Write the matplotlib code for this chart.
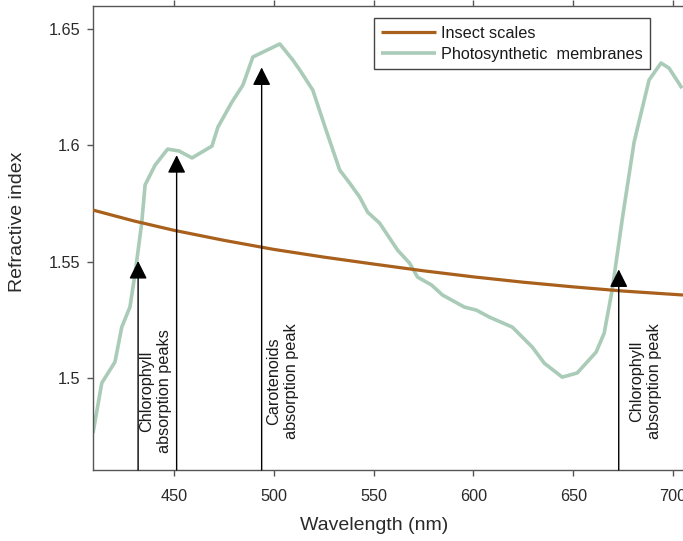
import matplotlib
matplotlib.use("Agg")
import matplotlib.pyplot as plt

plt.rcParams['font.family'] = ['Liberation Sans', 'DejaVu Sans']

# Insect scales refractive index
insect_wl = [409.4, 430, 450, 475, 500, 525, 550, 575, 600, 625, 650, 675, 705]
insect_n = [1.5722, 1.5675, 1.5635, 1.5592, 1.5553, 1.5520, 1.5490, 1.5461, 1.5435, 1.5412, 1.5392, 1.5374, 1.5357]

# Photosynthetic membranes refractive index
photo_wl = [409.4, 413.8, 420.4, 423.8, 427.9, 430.5, 433.8, 435.5, 440.5, 446.8, 452.5,
            459.0, 469.0, 472.0, 479.0, 484.5, 489.5, 503.0, 509.5, 513.0, 519.5, 526.0,
            533.0, 538.0, 543.0, 547.0, 553.0, 562.0, 568.0, 572.0, 579.0, 584.5, 595.5,
            601.5, 608.0, 619.5, 629.5, 635.5, 644.5, 652.0, 661.5, 665.5, 669.5, 674.5,
            680.5, 688.0, 694.0, 698.0, 704.5]
photo_n = [1.4764, 1.4979, 1.5069, 1.5219, 1.5305, 1.5451, 1.5666, 1.5830, 1.5915, 1.5984, 1.5976,
           1.5946, 1.5997, 1.6079, 1.6186, 1.6259, 1.6380, 1.6436, 1.6367, 1.6324, 1.6238, 1.6070,
           1.5894, 1.5838, 1.5778, 1.5713, 1.5666, 1.5550, 1.5494, 1.5434, 1.5400, 1.5357, 1.5305,
           1.5292, 1.5262, 1.5219, 1.5133, 1.5064, 1.5004, 1.5022, 1.5112, 1.5193, 1.5378, 1.5679,
           1.6014, 1.6281, 1.6354, 1.6332, 1.6246]

# Annotation arrows: x position and tip height
arrow_x = [432.0, 451.3, 493.9, 672.8]
arrow_tip = [1.5503, 1.5958, 1.6335, 1.5467]

# Annotation labels
label_text = ["Chlorophyll\nabsorption peaks", "Carotenoids\nabsorption peak", "Chlorophyll\nabsorption peak"]
label_x = [440.9, 504.4, 686.3]
label_y = [1.4944, 1.4987, 1.4987]

x_ticks = [450, 500, 550, 600, 650, 700]
y_ticks = [1.5, 1.55, 1.6, 1.65]
y_ticklabels = ["1.5", "1.55", "1.6", "1.65"]

fig = plt.figure(figsize=(6.83, 5.41), dpi=100)
ax = fig.add_axes([93/683, 1 - 470/541, 1 - 93/683, (470 - 6)/541])

xmin, xmax = 409.4, 705.0
ymin, ymax = 1.4605, 1.6599

ax.plot(insect_wl, insect_n, color='#A8601C', lw=2.3, label='Insect scales', zorder=3, solid_capstyle='butt')
ax.plot(photo_wl, photo_n, color='#A9CBB7', lw=2.6, label='Photosynthetic  membranes', zorder=2, solid_capstyle='butt')

for xa, tip in zip(arrow_x, arrow_tip):
    ax.annotate('', xy=(xa, tip), xytext=(xa, ymin),
                arrowprops=dict(arrowstyle='-|>,head_length=1.1,head_width=0.55',
                                mutation_scale=10, color='black', lw=1.0,
                                shrinkA=0, shrinkB=0), zorder=4)

for t, xx, yy in zip(label_text, label_x, label_y):
    ax.text(xx, yy, t, rotation=90, ha='center', va='center', multialignment='center',
            fontsize=11.7, color='#1a1a1a', linespacing=1.25)

ax.set_xlim(xmin, xmax)
ax.set_ylim(ymin, ymax)
ax.set_xticks(x_ticks)
ax.set_xticklabels([str(v) for v in x_ticks])
ax.set_yticks(y_ticks)
ax.set_yticklabels(y_ticklabels)

for s in ['left', 'bottom', 'top']:
    ax.spines[s].set_color('#555555')
    ax.spines[s].set_linewidth(1.0)
ax.spines['right'].set_visible(False)

ax.tick_params(axis='both', direction='out', length=4, width=1.0, color='#555555',
               labelsize=11.7, labelcolor='#2a2a2a')
ax.tick_params(axis='x', top=True, labeltop=False, pad=10)
ax.tick_params(axis='y', pad=5)

ax.set_xlabel('Wavelength (nm)', fontsize=14, color='#2a2a2a')
ax.set_ylabel('Refractive index', fontsize=14, color='#2a2a2a')
ax.xaxis.set_label_coords((374 - 93) / 590, -55 / 464)
ax.yaxis.set_label_coords((18 - 93) / 590, (470 - 222) / 464)
ax.xaxis.label.set_va('center')
ax.yaxis.label.set_va('center')

leg = ax.legend(loc='upper right', bbox_to_anchor=((650 - 93) / 590, (470 - 18.3) / 464),
                borderaxespad=0, frameon=True, fancybox=False, fontsize=11.7,
                handlelength=3.4, handletextpad=0.3, labelspacing=0.4, borderpad=0.45)
leg.get_frame().set_edgecolor('#444444')
leg.get_frame().set_linewidth(1.0)
leg.get_frame().set_alpha(1)
for txt in leg.get_texts():
    txt.set_color('#1a1a1a')

fig.savefig('out.png', dpi=100)
